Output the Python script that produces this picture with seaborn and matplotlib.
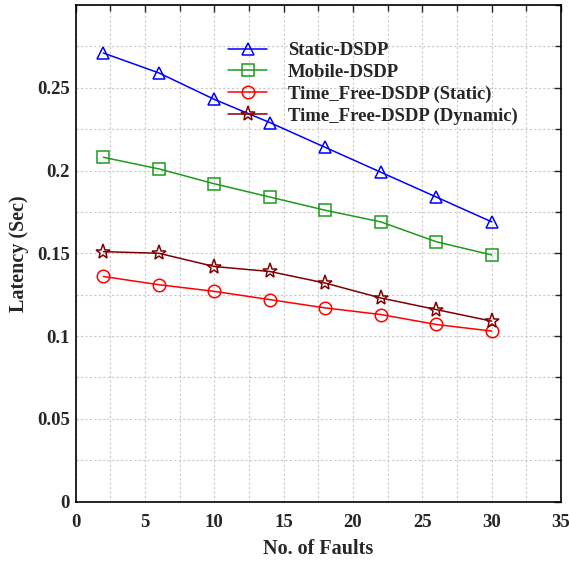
import matplotlib
matplotlib.use("Agg")
import matplotlib.pyplot as plt
import seaborn as sns
import pandas as pd
from matplotlib.ticker import MultipleLocator, FixedLocator, FuncFormatter

faults = [2, 6, 10, 14, 18, 22, 26, 30]
static_dsdp = [0.271, 0.259, 0.243, 0.229, 0.214, 0.199, 0.184, 0.169]
mobile_dsdp = [0.208, 0.201, 0.192, 0.184, 0.176, 0.169, 0.157, 0.149]
tf_static = [0.136, 0.131, 0.127, 0.122, 0.117, 0.113, 0.107, 0.103]
tf_dynamic = [0.151, 0.150, 0.142, 0.139, 0.132, 0.123, 0.116, 0.109]
series_names = ["Static-DSDP", "Mobile-DSDP", "Time_Free-DSDP (Static)", "Time_Free-DSDP (Dynamic)"]

sns.set_style("white")
plt.rcParams["font.family"] = ["Liberation Serif", "DejaVu Serif"]
plt.rcParams["font.weight"] = "bold"

fig = plt.figure(figsize=(5.69, 5.61), dpi=100)
ax = fig.add_axes([0.133, 0.106, 0.853, 0.885])

styles = [
    dict(color="#0000FF", marker="^"),
    dict(color="#1E9A1E", marker="s"),
    dict(color="#FF0000", marker="o"),
    dict(color="#800000", marker="*"),
]
data = [static_dsdp, mobile_dsdp, tf_static, tf_dynamic]
for name, vals, st in zip(series_names, data, styles):
    df = pd.DataFrame({"x": faults, "y": vals})
    ms = 11 if st["marker"] == "*" else 9
    sns.lineplot(data=df, x="x", y="y", ax=ax, color=st["color"], marker=st["marker"],
                 markersize=ms, markerfacecolor="none", markeredgecolor=st["color"],
                 markeredgewidth=1.1, linewidth=1.1, label=name)

ax.set_xlim(0, 35)
ax.set_ylim(0, 0.3)
ax.xaxis.set_major_locator(MultipleLocator(5))
ax.xaxis.set_minor_locator(MultipleLocator(2.5))
ax.yaxis.set_major_locator(FixedLocator([0, 0.05, 0.1, 0.15, 0.2, 0.25]))
ax.yaxis.set_minor_locator(MultipleLocator(0.025))
ax.yaxis.set_major_formatter(FuncFormatter(lambda v, p: "%g" % round(v, 3)))

ax.grid(True, which="both", linestyle=(0, (2, 2)), color="#c8c8c8", linewidth=0.8)
ax.set_axisbelow(True)
ax.tick_params(which="both", direction="in", top=True, right=True, width=1.0)
ax.tick_params(which="major", length=5, labelsize=13.5)
ax.tick_params(axis="x", which="major", pad=9)
ax.tick_params(axis="y", which="major", pad=4)
ax.tick_params(which="minor", length=4)
for lbl in ax.get_xticklabels() + ax.get_yticklabels():
    lbl.set_fontweight("bold")
for sp in ax.spines.values():
    sp.set_color("black")
    sp.set_linewidth(1.2)

ax.set_xlabel("No. of Faults", fontsize=14.5, fontweight="bold", labelpad=6)
ax.set_ylabel("Latency (Sec)", fontsize=14.5, fontweight="bold", labelpad=6)

leg = ax.legend(loc="upper left", bbox_to_anchor=(0.314, 0.925), frameon=False,
                prop={"family": "Liberation Serif", "weight": "bold", "size": 13.5},
                borderpad=0, borderaxespad=0, labelspacing=0.24,
                handlelength=2.1, handletextpad=1.1)

fig.savefig("out.png", dpi=100)
